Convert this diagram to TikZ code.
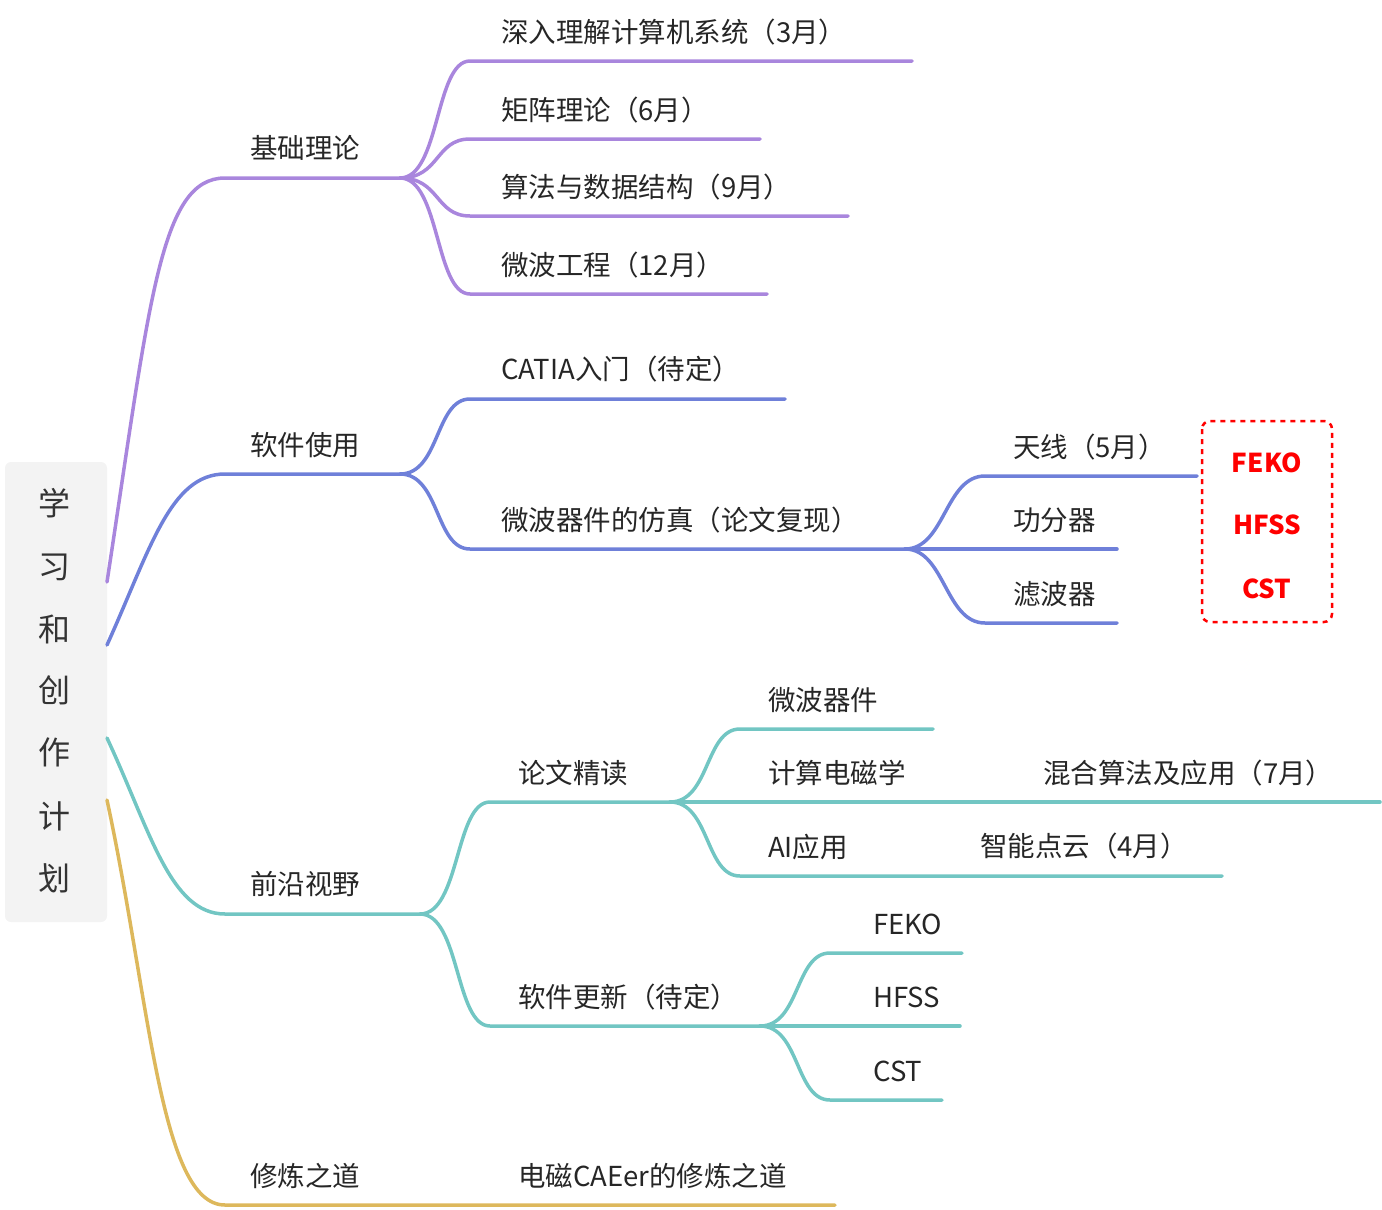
\documentclass[tikz,border=0pt]{standalone}
\usepackage{fontspec}
\setmainfont{Noto Sans CJK SC}
\definecolor{cp}{HTML}{A986DD}
\definecolor{cb}{HTML}{6F80D9}
\definecolor{ct}{HTML}{72C6C3}
\definecolor{cg}{HTML}{DDB85C}
\definecolor{cbox}{HTML}{F3F3F3}
\tikzset{
 lbl/.style={anchor=west,inner sep=0pt,font=\fontsize{27.5}{30}\selectfont,text=black!85},
 redtxt/.style={inner sep=0pt,font=\fontsize{26}{30}\selectfont\bfseries,text=red},
 br/.style={line width=3.5pt,line cap=round},
}
\usetikzlibrary{calc}
\begin{document}
\begin{tikzpicture}[x=1pt,y=-1pt]
\useasboundingbox (0,0) rectangle (1382,1210);
\fill[cbox,rounded corners=6pt] (5,462) rectangle (107,922);
\foreach \c/\y in {学/503,习/567,和/629,创/690,作/752,计/816,划/878}
  \node[font=\fontsize{32}{36}\selectfont,text=black!80] at (54,\y) {\c};
\coordinate (rp) at (107,582); \coordinate (rb) at (107,645);
\coordinate (rt) at (107,738); \coordinate (rg) at (107,800);
% purple
\coordinate (p0) at (225,178); \coordinate (p1) at (400,178);
\draw[br,cp] (rp) .. controls (150,300) and (160,178) .. (p0) -- (p1);
\node[lbl] (tp) at (250,148) {基础理论};
\foreach \y/\e/\t/\n in {61/912/{深入理解计算机系统（3月）}/a,139/760/{矩阵理论（6月）}/b,216/848/{算法与数据结构（9月）}/c,294/767/{微波工程（12月）}/d}{
  \coordinate (pp\n) at (470,\y);
  \draw[br,cp] (p1) .. controls (440,178) and (435,\y) .. (pp\n) -- (\e,\y);
  \node[lbl] (tp\n) at (501,\y-29) {\t};
}
% blue
\coordinate (b0) at (225,474); \coordinate (b1) at (400,474);
\draw[br,cb] (rb) .. controls (150,550) and (170,474) .. (b0) -- (b1);
\node[lbl] (tb) at (250,445) {软件使用};
\coordinate (ba) at (470,399); \coordinate (bb) at (470,549); \coordinate (bh) at (905,549);
\draw[br,cb] (b1) .. controls (440,474) and (435,399) .. (ba) -- (785,399);
\draw[br,cb] (b1) .. controls (440,474) and (435,549) .. (bb) -- (bh);
\node[lbl] (tba) at (501,369) {CATIA入门（待定）};
\node[lbl] (tbb) at (501,520) {微波器件的仿真（论文复现）};
\foreach \y/\e/\t/\n in {476/1197/{天线（5月）}/a,549/1117/{功分器}/b,623/1117/{滤波器}/c}{
  \coordinate (bq\n) at (985,\y);
  \draw[br,cb] (bh) .. controls (945,549) and (945,\y) .. (bq\n) -- (\e,\y);
  \node[lbl] (tq\n) at (1013,\y-29) {\t};
}
\draw[color=red,dashed,line width=2.5pt,dash pattern=on 5pt off 5pt,rounded corners=8pt] (1202,421) rectangle (1332,622);
\node[redtxt] (f1) at (1267,463) {FEKO};
\node[redtxt] (f2) at (1267,525) {HFSS};
\node[redtxt] (f3) at (1267,589) {CST};
% teal
\coordinate (t0) at (225,914); \coordinate (t1) at (420,914);
\draw[br,ct] (rt) .. controls (150,830) and (170,914) .. (t0) -- (t1);
\node[lbl] (tt) at (250,884) {前沿视野};
\coordinate (ta) at (490,802); \coordinate (th) at (670,802);
\coordinate (tb2) at (490,1026); \coordinate (th2) at (760,1026);
\draw[br,ct] (t1) .. controls (460,914) and (455,802) .. (ta) -- (th);
\draw[br,ct] (t1) .. controls (460,914) and (455,1026) .. (tb2) -- (th2);
\node[lbl] (tta) at (518,773) {论文精读};
\node[lbl] (ttb) at (518,997) {软件更新（待定）};
\foreach \y/\e/\t/\n in {729/933/{微波器件}/a,802/1380/{计算电磁学}/b,876/1222/{AI应用}/c}{
  \coordinate (tq\n) at (740,\y);
  \draw[br,ct] (th) .. controls (710,802) and (705,\y) .. (tq\n) -- (\e,\y);
  \node[lbl] (ttq\n) at (768,\y-29) {\t};
}
\node[lbl] (tm1) at (1043,773) {混合算法及应用（7月）};
\node[lbl] (tm2) at (980,846) {智能点云（4月）};
\foreach \y/\e/\t/\n in {953/962/{FEKO}/a,1026/960/{HFSS}/b,1100/942/{CST}/c}{
  \coordinate (ts\n) at (830,\y);
  \draw[br,ct] (th2) .. controls (800,1026) and (795,\y) .. (ts\n) -- (\e,\y);
  \node[lbl] (tts\n) at (873,\y-29) {\t};
}
% gold
\coordinate (g0) at (225,1205);
\draw[br,cg] (rg) .. controls (150,1000) and (160,1205) .. (g0) -- (835,1205);
\node[lbl] (tg) at (250,1176) {修炼之道};
\node[lbl] (tg2) at (518,1176) {电磁CAEer的修炼之道};
\end{tikzpicture}
\end{document}
